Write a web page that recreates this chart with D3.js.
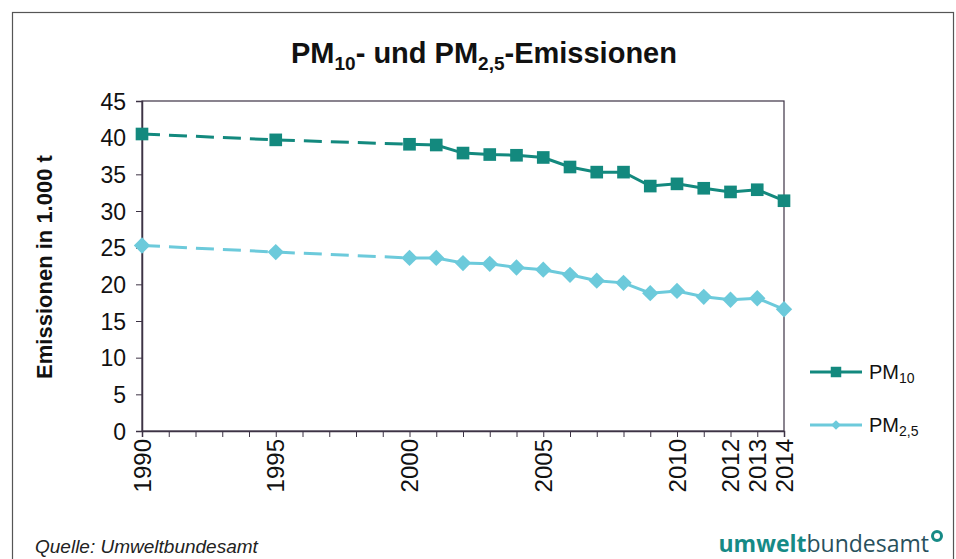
<!DOCTYPE html>
<html><head><meta charset="utf-8">
<script src="https://cdn.jsdelivr.net/npm/d3@7"></script>
<style>body{margin:0;background:#fff}svg{display:block}</style>
</head><body>
<svg id="c" width="956" height="559"></svg>
<script>
const years = [1990,1995,2000,2001,2002,2003,2004,2005,2006,2007,2008,2009,2010,2011,2012,2013,2014];
const pm10 = [40.5,39.7,39.1,39.0,37.9,37.7,37.6,37.3,36.0,35.3,35.3,33.4,33.7,33.1,32.6,32.9,31.4];
const pm25 = [25.3,24.4,23.6,23.6,22.9,22.8,22.3,22.0,21.3,20.5,20.2,18.8,19.1,18.3,17.9,18.1,16.6];
const yTicks = [0,5,10,15,20,25,30,35,40,45];
const xTickLabels = [1990,1995,2000,2005,2010,2012,2013,2014];
const seriesNames = ["PM10","PM2,5"];

const svg = d3.select("#c");
const m={l:142,r:784,t:101,b:431};
const x=d3.scaleLinear().domain([1990,2014]).range([m.l,m.r]);
const y=d3.scaleLinear().domain([0,45]).range([m.b,m.t]);
const c10="#13897e", c25="#6ccadb", axisC="#3d3345";
const font="'Liberation Sans', Arial, sans-serif";

// outer frame
svg.append("rect").attr("x",12.5).attr("y",12.5).attr("width",941).attr("height",560)
  .attr("fill","none").attr("stroke","#555").attr("stroke-width",1.2);

// title
const t=svg.append("text").attr("x",484).attr("y",63).attr("text-anchor","middle")
  .attr("font-family",font).attr("font-weight","bold").attr("font-size",29).attr("fill","#111");
t.append("tspan").text("PM");
t.append("tspan").attr("font-size",19).attr("dy",7).text("10");
t.append("tspan").attr("dy",-7).text("- und PM");
t.append("tspan").attr("font-size",19).attr("dy",7).text("2,5");
t.append("tspan").attr("dy",-7).text("-Emissionen");

// plot frame
svg.append("rect").attr("x",m.l).attr("y",m.t).attr("width",m.r-m.l).attr("height",m.b-m.t)
  .attr("fill","none").attr("stroke",axisC).attr("stroke-width",1.2);

// y axis
const ya=svg.append("g").attr("transform",`translate(${m.l},0)`)
  .call(d3.axisLeft(y).tickValues(yTicks).tickSize(6).tickPadding(10));
ya.select(".domain").attr("stroke",axisC).attr("stroke-width",1.5);
ya.selectAll("line").attr("stroke",axisC);
ya.selectAll("text").attr("font-family",font).attr("font-size",23).attr("fill","#111").attr("dy","0.36em");

// x axis minor ticks
const xa=svg.append("g").attr("transform",`translate(0,${m.b})`)
  .call(d3.axisBottom(x).tickValues(d3.range(1990,2015)).tickSize(6).tickFormat(""));
xa.select(".domain").attr("stroke",axisC).attr("stroke-width",1.5);
xa.selectAll("line").attr("stroke",axisC);
// x labels
svg.append("g").selectAll("text").data(xTickLabels).join("text")
  .attr("transform",d=>`translate(${x(d)},${m.b+8}) rotate(-90)`)
  .attr("text-anchor","end").attr("dy","0.36em")
  .attr("font-family",font).attr("font-size",24).attr("fill","#111").text(d=>d);

// y title
svg.append("text").attr("transform",`translate(52,267) rotate(-90)`).attr("text-anchor","middle")
  .attr("font-family",font).attr("font-weight","bold").attr("font-size",22).attr("fill","#111")
  .text("Emissionen in 1.000 t");

function drawSeries(vals,color,shape){
  const pts=years.map((yr,i)=>[x(yr),y(vals[i])]);
  const line=d3.line();
  const dashed=pts.filter((p,i)=>years[i]<=2000);
  const solid=pts.filter((p,i)=>years[i]>=2000);
  svg.append("path").attr("d",line(dashed)).attr("fill","none").attr("stroke",color)
    .attr("stroke-width",3).attr("stroke-dasharray","18,9");
  svg.append("path").attr("d",line(solid)).attr("fill","none").attr("stroke",color).attr("stroke-width",3);
  const sym=d3.symbol().type(shape==="sq"?d3.symbolSquare:d3.symbolDiamond2).size(shape==="sq"?160:170);
  svg.append("g").selectAll("path").data(pts).join("path")
    .attr("transform",p=>`translate(${p[0]},${p[1]})`).attr("d",sym).attr("fill",color);
}
drawSeries(pm10,c10,"sq");
drawSeries(pm25,c25,"di");

// legend
const leg=[{n:seriesNames[0],c:c10,s:d3.symbolSquare,sz:110,y:372,sub:"10"},
           {n:seriesNames[1],c:c25,s:d3.symbolDiamond2,sz:60,y:425,sub:"2,5"}];
leg.forEach(l=>{
  svg.append("line").attr("x1",810).attr("x2",862).attr("y1",l.y).attr("y2",l.y).attr("stroke",l.c).attr("stroke-width",3);
  svg.append("path").attr("transform",`translate(836,${l.y})`).attr("d",d3.symbol().type(l.s).size(l.sz)()).attr("fill",l.c);
  const tx=svg.append("text").attr("x",869).attr("y",l.y+7).attr("font-family",font).attr("font-size",20).attr("fill","#111");
  tx.append("tspan").text("PM");
  tx.append("tspan").attr("font-size",14).attr("dy",4).text(l.sub);
});

// footer
svg.append("text").attr("x",35).attr("y",553).attr("font-family",font).attr("font-style","italic")
  .attr("font-size",19).attr("fill","#222").text("Quelle: Umweltbundesamt");
const logo=svg.append("text").attr("x",929).attr("y",552).attr("text-anchor","end")
  .attr("font-family","'Open Sans', 'DejaVu Sans', sans-serif").attr("font-size",23);
logo.append("tspan").attr("font-weight","bold").attr("fill","#168a86").text("umwelt");
logo.append("tspan").attr("fill","#28505c").text("bundesamt");
svg.append("circle").attr("cx",937).attr("cy",536).attr("r",4.5).attr("fill","none").attr("stroke","#168a86").attr("stroke-width",3);
</script>
</body></html>
